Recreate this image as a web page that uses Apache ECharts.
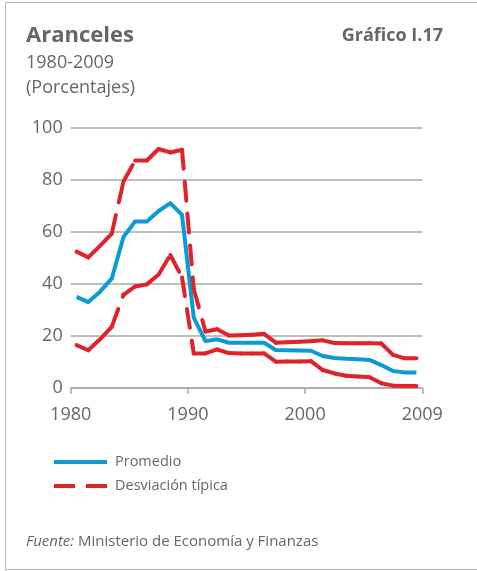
<!DOCTYPE html>
<html><head><meta charset="utf-8">
<script src="https://cdn.jsdelivr.net/npm/echarts@6/dist/echarts.min.js"></script>
<style>html,body{margin:0;padding:0;background:#fff}#c{width:477px;height:571px}</style>
</head><body><div id="c"></div>
<script>
// ---- Data ----
const years = [1980,1981,1982,1983,1984,1985,1986,1987,1988,1989,
               1990,1991,1992,1993,1994,1995,1996,1997,1998,1999,
               2000,2001,2002,2003,2004,2005,2006,2007,2008,2009];
const promedio = [35,33,37,42,58,64,64,68,71,66.5,
                  27,18,18.7,17.4,17.4,17.4,17.4,14.6,14.5,14.4,
                  14.3,12.3,11.5,11.2,11.0,10.8,8.8,6.5,6.0,6.0];
const desvSuperior = [52.4,50.2,54.6,59.3,79.3,87.4,87.4,91.8,90.5,91.5,
                      38,21.7,22.6,20.2,20.3,20.5,20.8,17.4,17.6,17.8,
                      18.0,18.3,17.3,17.2,17.2,17.2,17.1,12.7,11.4,11.4];
const desvInferior = [16.5,14.5,18.7,23.5,35.8,39,39.8,43.6,51.1,42.5,
                      13.3,13.3,14.8,13.4,13.3,13.3,13.3,10.1,10.2,10.2,
                      10.3,6.9,5.6,4.7,4.4,4.1,1.8,0.9,0.8,0.8];
const xTickLabels = ['1980','1990','2000','2009'];
const seriesNames = ['Promedio','Desviación típica'];

// ---- Styles ----
const FONT = '"Open Sans", "Noto Sans", sans-serif';
const BLUE = '#0b9ad8';
const RED = '#e2222b';
const TEXT = '#666666';
const GRID = '#a9a9a9';

// each category sits in the middle of its yearly slot on a 0..N axis
const pos = i => i + 0.5;
const toXY = arr => arr.map((v, i) => [pos(i), v]);

function dashedSegments(arr, name) {
  const out = [];
  for (let i = 0; i < arr.length - 1; i++) {
    out.push({
      type: 'line', name: name, silent: true, symbol: 'none', showSymbol: false,
      data: [[pos(i), arr[i]], [pos(i + 1), arr[i + 1]]],
      lineStyle: { color: RED, width: 4, type: [19, 13], cap: 'round', join: 'round' },
      z: 3, animation: false
    });
  }
  return out;
}

const chart = echarts.init(document.getElementById('c'), null, { renderer: 'canvas' });
chart.setOption({
  animation: false,
  backgroundColor: '#fff',
  grid: { left: 70.7, right: 54.7, top: 127.7, bottom: 183, containLabel: false },
  xAxis: {
    type: 'value', min: 0, max: years.length, interval: 10,
    axisLine: { show: true, lineStyle: { color: GRID, width: 1.5 } },
    axisTick: { show: true, length: 6, lineStyle: { color: GRID, width: 1.5 } },
    splitLine: { show: false },
    axisLabel: {
      color: TEXT, fontFamily: FONT, fontSize: 18, margin: 18,
      formatter: v => xTickLabels[Math.round(v / 10)] || ''
    }
  },
  yAxis: {
    type: 'value', min: 0, max: 100, interval: 20,
    axisLine: { show: false }, axisTick: { show: false },
    splitLine: { show: true, lineStyle: { color: GRID, width: 1.5 } },
    axisLabel: { color: TEXT, fontFamily: FONT, fontSize: 18, margin: 8 }
  },
  series: [
    {
      type: 'line', name: seriesNames[0], data: toXY(promedio),
      symbol: 'none', showSymbol: false,
      lineStyle: { color: BLUE, width: 4, join: 'round' }, itemStyle: { color: BLUE }, z: 2
    },
    ...dashedSegments(desvSuperior, seriesNames[1]),
    ...dashedSegments(desvInferior, seriesNames[1])
  ],
  graphic: [
    { type: 'rect', shape: { x: 5.5, y: 2.5, width: 520, height: 567 },
      style: { fill: 'none', stroke: '#b8b8b8', lineWidth: 1 }, silent: true },
    { type: 'text', x: 26, y: 36, style: { text: 'Aranceles', fill: TEXT,
      font: 'bold 22px ' + FONT, verticalAlign: 'middle' } },
    { type: 'text', x: 443, y: 36, style: { text: 'Gráfico I.17', fill: TEXT,
      font: 'bold 18px ' + FONT, align: 'right', verticalAlign: 'middle' } },
    { type: 'text', x: 26, y: 63, style: { text: '1980-2009', fill: TEXT,
      font: '18px ' + FONT, verticalAlign: 'middle' } },
    { type: 'text', x: 26, y: 88, style: { text: '(Porcentajes)', fill: TEXT,
      font: '18px ' + FONT, verticalAlign: 'middle' } },
    // legend
    { type: 'line', shape: { x1: 54, y1: 462, x2: 107, y2: 462 },
      style: { stroke: BLUE, lineWidth: 4 }, silent: true },
    { type: 'text', x: 115, y: 462, style: { text: seriesNames[0], fill: TEXT,
      font: '14.5px ' + FONT, verticalAlign: 'middle' } },
    { type: 'line', shape: { x1: 54, y1: 486, x2: 107, y2: 486 },
      style: { stroke: RED, lineWidth: 4, lineDash: [21, 11] }, silent: true },
    { type: 'text', x: 115, y: 486, style: { text: seriesNames[1], fill: TEXT,
      font: '14.5px ' + FONT, verticalAlign: 'middle' } },
    { type: 'text', x: 26, y: 542, style: {
      text: '{i|Fuente:} Ministerio de Economía y Finanzas',
      fill: TEXT, font: '15px ' + FONT, verticalAlign: 'middle',
      rich: { i: { fontStyle: 'italic', fontFamily: FONT, fontSize: 15, fill: TEXT } } } }
  ]
});
</script></body></html>
